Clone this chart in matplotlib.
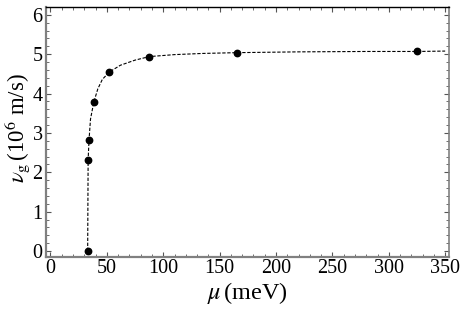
import numpy as np
import matplotlib.pyplot as plt
from matplotlib.ticker import MultipleLocator

# measured points
mu = [33.0, 33.4, 34.2, 38.4, 52.3, 87.7, 165.6, 325.4]
vg = [0.0, 2.32, 2.82, 3.78, 4.55, 4.94, 5.04, 5.07]

# dashed fit curve
mu_fit = [33.0, 33.2, 33.4, 34.2, 35.5, 38.4, 42.0, 46.0, 52.3, 62.0, 75.0, 87.7,
          110.0, 135.0, 165.6, 220.0, 280.0, 325.4, 350.0]
vg_fit = [0.0, 1.2, 2.32, 2.82, 3.35, 3.78, 4.12, 4.36, 4.55, 4.72, 4.85, 4.94,
          4.99, 5.02, 5.04, 5.06, 5.07, 5.07, 5.08]

plt.rcParams['font.family'] = ['Liberation Serif', 'DejaVu Serif']
plt.rcParams['mathtext.fontset'] = 'stix'

fig = plt.figure(figsize=(4.63, 3.16), dpi=100)
ax = fig.add_axes([45.5 / 463, 1 - 256.5 / 316, (449 - 45.5) / 463, (256.5 - 7) / 316])

ax.plot(mu_fit, vg_fit, color='black', lw=0.8, ls=(0, (3, 1.5)))
ax.plot(mu, vg, 'o', color='black', ms=4.6)

ax.set_xlim(-4.4, 353.4)
ax.set_ylim(-0.14, 6.2)
ax.xaxis.set_major_locator(MultipleLocator(50))
ax.xaxis.set_minor_locator(MultipleLocator(10))
ax.yaxis.set_major_locator(MultipleLocator(1))
ax.yaxis.set_minor_locator(MultipleLocator(0.2))
ax.tick_params(which='both', direction='in', top=True, right=True,
               labelsize=14.5, color='#555555', pad=2)
ax.tick_params(which='major', length=3.5, width=0.8)
ax.tick_params(which='minor', length=2, width=0.6)

for side in ['left', 'bottom']:
    ax.spines[side].set_color('#808080')
    ax.spines[side].set_linewidth(1.6)
ax.spines['right'].set_color('#808080')
ax.spines['right'].set_linewidth(1.2)
ax.spines['top'].set_color('black')
ax.spines['top'].set_linewidth(1.0)

ax.set_xlabel(r'$\mu\,$(meV)', fontsize=17.5, labelpad=1)
fig.text(18 / 463, 1 - 128 / 316, r'$\nu_{\rm g}\,$(10$^6$ m/s)', fontsize=16.5,
         rotation=90, ha='center', va='center')

fig.savefig('out.png', dpi=100)
